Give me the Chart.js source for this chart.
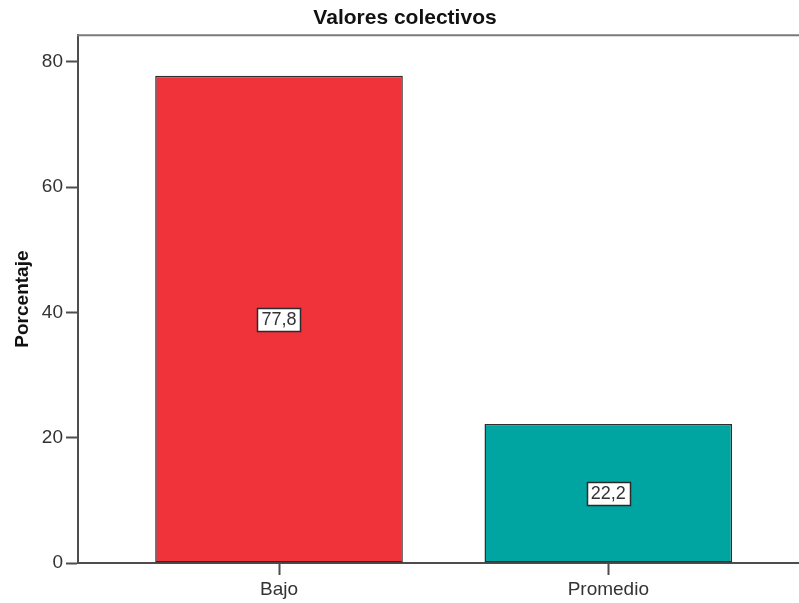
<!DOCTYPE html>
<html lang="es">
<head>
<meta charset="utf-8">
<title>Valores colectivos</title>
<script src="https://cdn.jsdelivr.net/npm/chart.js@4/dist/chart.umd.min.js"></script>
<style>
  html, body { margin: 0; padding: 0; background: #ffffff; overflow: hidden; }
  #wrap { width: 799px; height: 603px; }
</style>
</head>
<body>
<div id="wrap"><canvas id="chart" width="799" height="603"></canvas></div>
<script>
// Distribución porcentual de "Valores colectivos"
const categories = ['Bajo', 'Promedio'];
const percentages = [77.8, 22.2];
const barColors = ['#F0323B', '#00A5A1'];
const yTicks = [0, 20, 40, 60, 80];
const chartTitle = 'Valores colectivos';
const yTitle = 'Porcentaje';

const FONT = "'Liberation Sans', Arial, sans-serif";
const AXIS_COLOR = '#4d4d4d';

// Formato decimal con coma
const fmt = v => v.toFixed(1).replace('.', ',');

// Línea superior del marco del gráfico
const frameTop = {
  id: 'frameTop',
  afterDraw(chart) {
    const { ctx, chartArea } = chart;
    ctx.save();
    ctx.strokeStyle = '#7a7a7a';
    ctx.lineWidth = 2;
    ctx.beginPath();
    ctx.moveTo(chartArea.left - 1, chartArea.top);
    ctx.lineTo(chart.width, chartArea.top);
    ctx.stroke();
    ctx.restore();
  }
};

// Etiquetas de valor en recuadro blanco, centradas en cada barra
const boxedLabels = {
  id: 'boxedLabels',
  afterDatasetsDraw(chart) {
    const { ctx } = chart;
    const meta = chart.getDatasetMeta(0);
    ctx.save();
    ctx.font = '18px ' + FONT;
    ctx.textAlign = 'center';
    ctx.textBaseline = 'middle';
    meta.data.forEach((bar, i) => {
      const text = fmt(percentages[i]);
      const cx = bar.x;
      const cy = (bar.y + bar.base) / 2;
      const w = ctx.measureText(text).width + 8;
      const h = 23;
      const x0 = Math.round(cx - w / 2) + 0.5;
      const y0 = Math.round(cy - h / 2) + 0.5;
      ctx.fillStyle = '#ffffff';
      ctx.fillRect(x0, y0, Math.round(w), h);
      ctx.strokeStyle = '#2b2b2b';
      ctx.lineWidth = 1.5;
      ctx.strokeRect(x0, y0, Math.round(w), h);
      ctx.fillStyle = '#333333';
      ctx.fillText(text, cx, cy + 1);
    });
    ctx.restore();
  }
};

const points = categories.map((c, i) => ({ x: i, y: percentages[i] }));

new Chart(document.getElementById('chart'), {
  type: 'bar',
  data: {
    datasets: [{
      data: points,
      backgroundColor: barColors,
      borderColor: '#2e2e2e',
      borderWidth: 1.5,
      borderSkipped: false,
      categoryPercentage: 1,
      barPercentage: 0.752
    }]
  },
  plugins: [frameTop, boxedLabels],
  options: {
    responsive: false,
    animation: false,
    events: [],
    layout: { padding: { left: 11, right: 0, top: 0, bottom: 0 } },
    plugins: {
      legend: { display: false },
      tooltip: { enabled: false },
      title: {
        display: true,
        text: chartTitle,
        color: '#111111',
        font: { family: FONT, size: 21, weight: 'bold', lineHeight: 1.2 },
        padding: { top: 6, bottom: 4 }
      }
    },
    scales: {
      x: {
        type: 'linear',
        min: -0.6104,
        max: 1.5791,
        offset: false,
        afterBuildTicks(scale) {
          scale.ticks = categories.map((c, i) => ({ value: i }));
        },
        afterFit(scale) { scale.height = 40; },
        ticks: {
          callback: v => categories[v] ?? '',
          color: '#333333',
          font: { family: FONT, size: 19 },
          padding: 3,
          maxRotation: 0,
          autoSkip: false
        },
        grid: {
          display: true,
          offset: false,
          drawOnChartArea: false,
          drawTicks: true,
          tickLength: 12,
          tickWidth: 2,
          color: AXIS_COLOR
        },
        border: { display: true, color: AXIS_COLOR, width: 2 }
      },
      y: {
        type: 'linear',
        min: 0,
        max: 84.26,
        afterBuildTicks(scale) {
          scale.ticks = yTicks.map(v => ({ value: v }));
        },
        afterFit(scale) { scale.width = 67; },
        ticks: {
          color: '#333333',
          font: { family: FONT, size: 19 },
          padding: 3
        },
        grid: {
          display: true,
          drawOnChartArea: false,
          drawTicks: true,
          tickLength: 12,
          tickWidth: 2,
          color: AXIS_COLOR
        },
        border: { display: true, color: AXIS_COLOR, width: 2 },
        title: {
          display: true,
          text: yTitle,
          color: '#111111',
          font: { family: FONT, size: 19, weight: 'bold', lineHeight: 1.2 },
          padding: { top: 0, bottom: 0 }
        }
      }
    }
  }
});
</script>
</body>
</html>
